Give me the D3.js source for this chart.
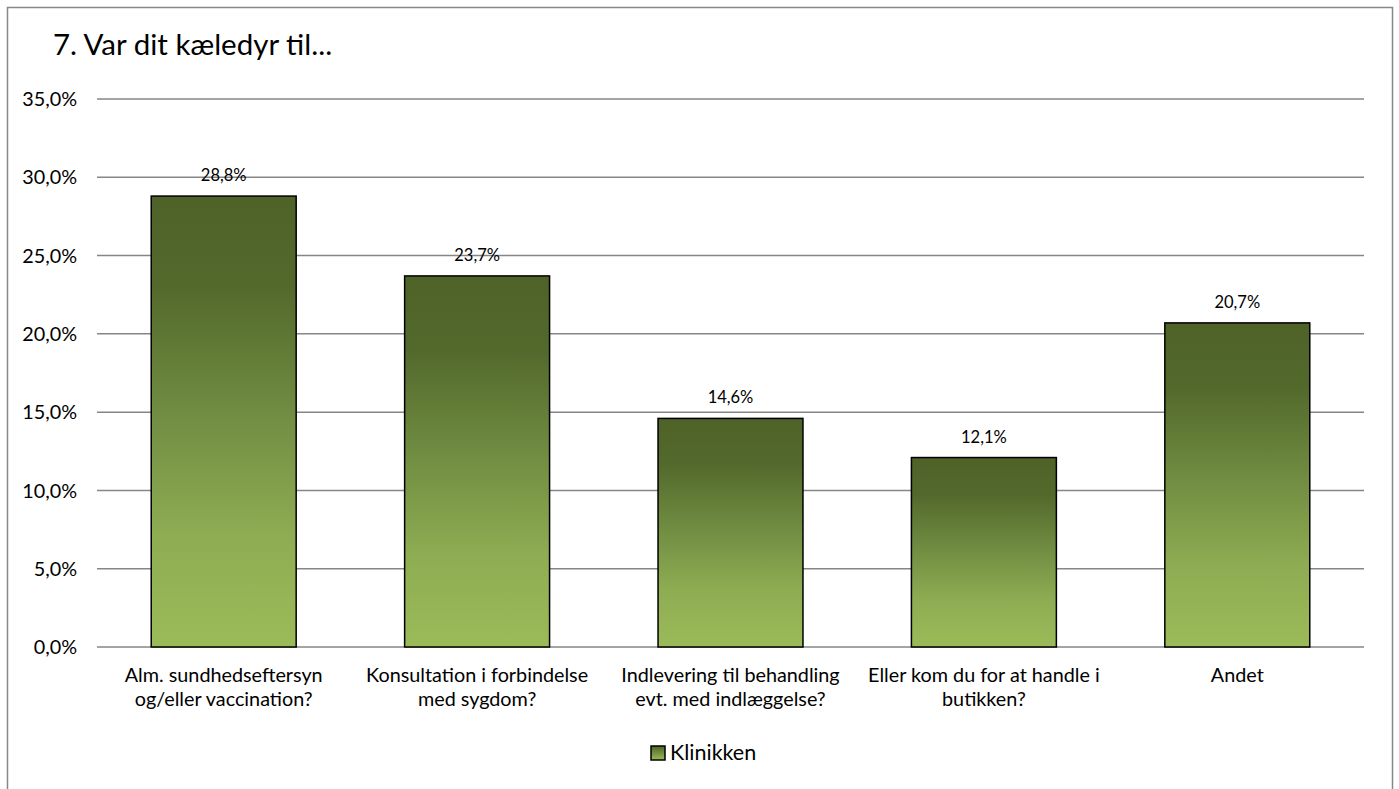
<!DOCTYPE html>
<html><head><meta charset="utf-8">
<script src="https://cdn.jsdelivr.net/npm/d3@7"></script>
<style>body{margin:0;background:#fff;} text{font-family:Lato,"Open Sans",sans-serif;fill:#000;}</style>
</head><body>
<svg id="c" width="1399" height="789"></svg>
<script>
const categories = [
  ["Alm. sundhedseftersyn", "og/eller vaccination?"],
  ["Konsultation i forbindelse", "med sygdom?"],
  ["Indlevering til behandling", "evt. med indlæggelse?"],
  ["Eller kom du for at handle i", "butikken?"],
  ["Andet"]
];
const values = [28.8, 23.7, 14.6, 12.1, 20.7];
const yTicks = [0, 5, 10, 15, 20, 25, 30, 35];
const seriesName = "Klinikken";
const title = "7. Var dit kæledyr til...";

const svg = d3.select("#c");
const fmt = v => d3.format(".1f")(v).replace(".", ",") + "%";

// outer frame
svg.append("rect").attr("x", 7.5).attr("y", 7.5).attr("width", 1385).attr("height", 800)
  .attr("fill", "#fff").attr("stroke", "#878787").attr("stroke-width", 1.5);

svg.append("text").attr("x", 53).attr("y", 55).attr("font-size", 29.5).text(title);

const x = d3.scaleBand().domain(d3.range(categories.length)).range([97, 1364]).paddingInner(0.428).paddingOuter(0.214);
const y = d3.scaleLinear().domain([0, 35]).range([647, 99]);

const defs = svg.append("defs");
const g = defs.append("linearGradient").attr("id", "grad").attr("x1", 0).attr("y1", 0).attr("x2", 0).attr("y2", 1);
[["0%", "#4F6228"], ["20%", "#53692C"], ["50%", "#728F43"], ["75%", "#8EAC52"], ["100%", "#9BBB59"]]
  .forEach(([o, c]) => g.append("stop").attr("offset", o).attr("stop-color", c));

// gridlines
svg.append("g").selectAll("line").data(yTicks).join("line")
  .attr("x1", 97).attr("x2", 1364)
  .attr("y1", d => y(d)).attr("y2", d => y(d))
  .attr("stroke", "#868686").attr("stroke-width", 1.5);

// y labels
svg.append("g").selectAll("text").data(yTicks).join("text")
  .attr("x", 77).attr("y", d => y(d)).attr("dy", "0.36em")
  .attr("text-anchor", "end").attr("font-size", 19.8).text(d => fmt(d));

// bars
svg.append("g").selectAll("rect").data(values).join("rect")
  .attr("x", (d, i) => x(i)).attr("width", x.bandwidth())
  .attr("y", d => y(d)).attr("height", d => y(0) - y(d))
  .attr("fill", "url(#grad)").attr("stroke", "#000").attr("stroke-width", 1.5);

// value labels
svg.append("g").selectAll("text").data(values).join("text")
  .attr("x", (d, i) => x(i) + x.bandwidth() / 2).attr("y", d => y(d) - 15)
  .attr("text-anchor", "middle").attr("font-size", 16.5).text(d => fmt(d));

// category labels
const cl = svg.append("g").selectAll("text").data(categories).join("text")
  .attr("x", (d, i) => x(i) + x.bandwidth() / 2).attr("y", 682)
  .attr("text-anchor", "middle").attr("font-size", 19.8);
cl.selectAll("tspan").data(d => d).join("tspan")
  .attr("x", function () { return this.parentNode.getAttribute("x"); })
  .attr("dy", (d, i) => i === 0 ? 0 : 24).text(d => d);

// legend
const lg = svg.append("g");
const lgGrad = defs.append("linearGradient").attr("id", "lgrad").attr("x1", 0).attr("y1", 0).attr("x2", 0).attr("y2", 1);
lgGrad.append("stop").attr("offset", "0%").attr("stop-color", "#4F6228");
lgGrad.append("stop").attr("offset", "100%").attr("stop-color", "#9BBB59");
lg.append("rect").attr("x", 651).attr("y", 746).attr("width", 14).attr("height", 14)
  .attr("fill", "url(#lgrad)").attr("stroke", "#000").attr("stroke-width", 1.5);
lg.append("text").attr("x", 670).attr("y", 760).attr("font-size", 21.5).text(seriesName);
</script>
</body></html>
